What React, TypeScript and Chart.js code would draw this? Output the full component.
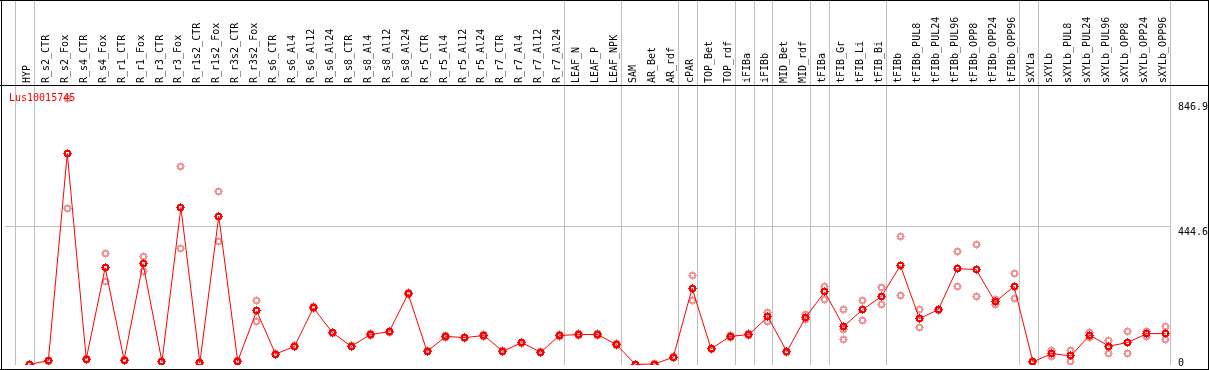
import React, { useEffect, useRef } from "react";
import { Chart, registerables } from "chart.js";

Chart.register(...registerables);

const categories = [
  "HYP", "R_s2_CTR", "R_s2_Fox", "R_s4_CTR", "R_s4_Fox", "R_r1_CTR", "R_r1_Fox", "R_r3_CTR", "R_r3_Fox",
  "R_r1s2_CTR", "R_r1s2_Fox", "R_r3s2_CTR", "R_r3s2_Fox", "R_s6_CTR", "R_s6_Al4", "R_s6_Al12", "R_s6_Al24",
  "R_s8_CTR", "R_s8_Al4", "R_s8_Al12", "R_s8_Al24", "R_r5_CTR", "R_r5_Al4", "R_r5_Al12", "R_r5_Al24",
  "R_r7_CTR", "R_r7_Al4", "R_r7_Al12", "R_r7_Al24", "LEAF_N", "LEAF_P", "LEAF_NPK", "SAM", "AR_Bet", "AR_rdf",
  "cPAR", "TOP_Bet", "TOP_rdf", "iFIBa", "iFIBb", "MID_Bet", "MID_rdf", "tFIBa", "tFIB_Gr", "tFIB_Li", "tFIB_Bi",
  "tFIBb", "tFIBb_PUL8", "tFIBb_PUL24", "tFIBb_PUL96", "tFIBb_OPP8", "tFIBb_OPP24", "tFIBb_OPP96",
  "sXYLa", "sXYLb", "sXYLb_PUL8", "sXYLb_PUL24", "sXYLb_PUL96", "sXYLb_OPP8", "sXYLb_OPP24", "sXYLb_OPP96",
];

const meanValues = [
  0, 12, 679, 17, 311, 14, 324, 9, 505,
  5, 477, 10, 172, 33, 58, 182, 102,
  58, 96, 105, 227, 42, 90, 86, 93,
  42, 70, 39, 93, 96, 96, 64, 0, 1, 23,
  245, 50, 90, 96, 153, 41, 152, 233, 122, 176, 219,
  318, 147, 176, 308, 305, 201, 251,
  8, 35, 27, 94, 59, 70, 99, 99,
];

const repA = [
  0, 14, 855, 19, 357, 16, 347, 10, 638,
  6, 556, 11, 207, 35, 60, 185, 104,
  60, 98, 107, 230, 44, 92, 88, 95,
  44, 72, 41, 95, 98, 98, 66, 0, 2, 25,
  286, 52, 92, 98, 167, 43, 159, 249, 178, 207, 248,
  410, 175, 178, 362, 387, 210, 292,
  10, 45, 46, 101, 78, 105, 106, 122,
];

const repB = [
  0, 10, 502, 15, 266, 12, 299, 8, 372,
  4, 395, 9, 137, 31, 56, 179, 100,
  56, 94, 103, 224, 40, 88, 84, 91,
  40, 68, 37, 91, 94, 94, 62, 0, 0, 21,
  204, 48, 88, 94, 138, 39, 145, 210, 80, 140, 193,
  223, 118, 174, 251, 219, 192, 213,
  6, 25, 10, 86, 36, 36, 90, 80,
];

const repC = categories.map((c) => (c === "tFIB_Gr" ? 112 : null));

const yTickValues = [0, 444.6, 846.9];
const groupEnds = [-1, 0, 28, 31, 34, 35, 37, 38, 39, 41, 42, 45, 52, 53, 60];
const geneTitle = "Lus10015745";

const FONT_FAMILY = "'DejaVu Sans Mono', monospace";
const W = 1209;
const H = 370;
const PAD_LEFT = 1;
const Y_AXIS_W = 39;
const X_AXIS_H = 85;
const FIRST_PX = 25.5;
const STEP_PX = 19;
const X_MIN = -(FIRST_PX - PAD_LEFT) / STEP_PX;
const X_MAX = X_MIN + (W - Y_AXIS_W - PAD_LEFT) / STEP_PX;

function makeMarker(color: string): HTMLCanvasElement {
  const c = document.createElement("canvas");
  c.width = 9;
  c.height = 9;
  const g = c.getContext("2d")!;
  g.fillStyle = color;
  for (let r = 0; r < 9; r++) {
    for (let q = 0; q < 9; q++) {
      const dx = q - 4;
      const dy = r - 4;
      const d = Math.sqrt(dx * dx + dy * dy);
      if (d >= 1.95 && d <= 3.65) g.fillRect(q, r, 1, 1);
    }
  }
  g.fillRect(4, 0, 1, 1);
  g.fillRect(4, 8, 1, 1);
  g.fillRect(0, 4, 1, 1);
  g.fillRect(8, 4, 1, 1);
  return c;
}

const overlayPlugin = {
  id: "overlay",
  beforeDraw(chart: any) {
    const { ctx, chartArea, scales } = chart;
    ctx.save();
    ctx.fillStyle = "#c0c0c0";
    groupEnds.forEach((k) => {
      const px = scales.x.getPixelForValue(k + 0.27);
      ctx.fillRect(Math.floor(px), 0, 1, chartArea.bottom);
    });
    ctx.restore();
  },
  beforeDatasetsDraw(chart: any) {
    chart.ctx.imageSmoothingEnabled = false;
  },
  afterDraw(chart: any) {
    const { ctx, scales } = chart;
    ctx.save();
    ctx.fillStyle = "#000";
    ctx.fillRect(0, 0, W, 1);
    ctx.fillRect(1, 0, 1, H);
    ctx.fillRect(W - 1, 0, 1, H);
    ctx.fillRect(0, H - 1, W, 1);
    ctx.fillRect(0, X_AXIS_H, W, 1);

    ctx.font = "10px " + FONT_FAMILY;
    ctx.textAlign = "left";
    ctx.textBaseline = "alphabetic";
    ctx.fillStyle = "#000";
    scales.y.ticks.forEach((t: any) => {
      const py = scales.y.getPixelForValue(t.value);
      ctx.fillText(String(t.value), W - Y_AXIS_W + 8, Math.min(py + 9, H - 4));
    });

    ctx.fillStyle = "#ff0000";
    ctx.fillText(geneTitle, 9, X_AXIS_H + 16);
    ctx.restore();
  },
};

export default function App() {
  const ref = useRef<HTMLCanvasElement | null>(null);

  useEffect(() => {
    if (!ref.current) return;
    const red = makeMarker("#ff0000");
    const pink = makeMarker("rgb(240,150,150)");
    const toPts = (arr: (number | null)[]) =>
      arr.map((y, x) => ({ x, y })).filter((p) => p.y !== null);

    const repStyle = {
      type: "line" as const,
      showLine: false,
      pointStyle: pink,
      pointRadius: 4,
      borderColor: "rgb(240,150,150)",
      backgroundColor: "rgb(240,150,150)",
    };

    const chart = new Chart(ref.current, {
      type: "line",
      data: {
        datasets: [
          {
            data: toPts(meanValues) as any,
            borderColor: "#ff0000",
            backgroundColor: "#ff0000",
            borderWidth: 1,
            pointStyle: red as any,
            pointRadius: 4,
            tension: 0,
          },
          { ...repStyle, data: toPts(repA) as any },
          { ...repStyle, data: toPts(repB) as any },
          { ...repStyle, data: toPts(repC) as any },
        ],
      },
      options: {
        animation: false,
        responsive: false,
        maintainAspectRatio: false,
        layout: { padding: { left: PAD_LEFT, right: 0, top: 0, bottom: 1 } },
        plugins: {
          legend: { display: false },
          tooltip: { enabled: false },
          title: { display: false },
        },
        scales: {
          x: {
            type: "linear",
            position: "top",
            min: X_MIN,
            max: X_MAX,
            afterBuildTicks: (s: any) => {
              s.ticks = categories.map((_, i) => ({ value: i }));
            },
            afterFit: (s: any) => {
              s.height = X_AXIS_H;
            },
            grid: { display: false, drawTicks: false },
            border: { display: false },
            ticks: {
              autoSkip: false,
              minRotation: 90,
              maxRotation: 90,
              padding: 2,
              labelOffset: 10,
              color: "#000",
              font: { family: FONT_FAMILY, size: 10 },
              callback: (v: any) => categories[v as number],
            },
          },
          y: {
            type: "linear",
            position: "right",
            min: -2,
            max: 899,
            afterBuildTicks: (s: any) => {
              s.ticks = yTickValues.map((v) => ({ value: v }));
            },
            afterFit: (s: any) => {
              s.width = Y_AXIS_W;
            },
            grid: {
              color: (c: any) => (c.tick && c.tick.value === 444.6 ? "#c0c0c0" : "rgba(0,0,0,0)"),
              drawTicks: false,
              lineWidth: 1,
            },
            border: { display: false },
            ticks: { display: false },
          },
        },
      },
      plugins: [overlayPlugin],
    });
    return () => chart.destroy();
  }, []);

  return (
    <div style={{ position: "absolute", left: 0, top: 0, width: W, height: H, background: "#fff" }}>
      <canvas ref={ref} width={W} height={H} style={{ display: "block", width: W, height: H }} />
    </div>
  );
}
